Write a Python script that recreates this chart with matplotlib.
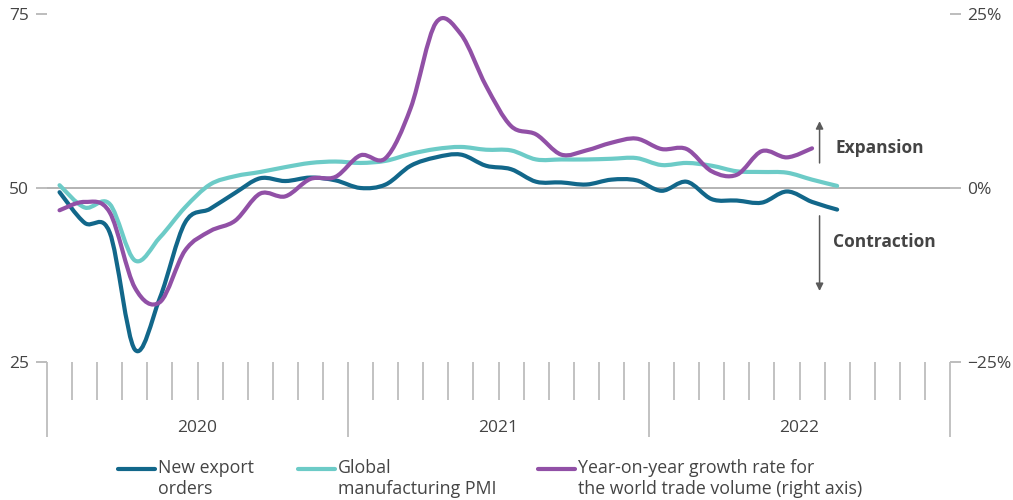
import matplotlib
matplotlib.use("Agg")
import matplotlib.pyplot as plt
from matplotlib.path import Path
from matplotlib.patches import PathPatch
from matplotlib.lines import Line2D

plt.rcParams['font.family'] = ['Open Sans', 'DejaVu Sans']

# Monthly readings, Jan 2020 onwards
years = ['2020', '2021', '2022']
export_orders = [49.4, 45.0, 43.6, 26.8, 34.2, 45.0, 47.0, 49.3, 51.4, 51.0, 51.5, 51.1,
                 50.0, 50.5, 53.2, 54.4, 54.8, 53.2, 52.7, 50.9, 50.8, 50.5, 51.2, 51.1,
                 49.6, 50.9, 48.4, 48.2, 47.9, 49.5, 48.0, 46.9]
global_pmi = [50.4, 47.2, 47.7, 39.6, 42.9, 47.2, 50.5, 51.7, 52.3, 53.0, 53.6, 53.8,
              53.6, 53.9, 54.9, 55.6, 55.9, 55.5, 55.4, 54.1, 54.1, 54.1, 54.2, 54.3,
              53.3, 53.6, 53.2, 52.4, 52.3, 52.2, 51.2, 50.3]
trade_growth = [-3.2, -2.0, -3.5, -14.3, -16.4, -9.0, -6.2, -4.7, -0.8, -1.2, 1.3, 1.6,
                4.7, 4.3, 11.5, 23.7, 22.1, 14.7, 8.9, 7.7, 4.8, 5.4, 6.5, 7.1,
                5.6, 5.6, 2.4, 1.9, 5.3, 4.4, 5.7]

BLUE = '#12678a'
TEAL = '#6ccbc7'
PURPLE = '#9150a6'
GREY = '#bdbdbd'
TEXT = '#444444'


def smooth_path(y):
    # Catmull-Rom curve through the monthly points, as cubic Bezier segments
    x = list(range(len(y)))
    n = len(y)
    verts = [(x[0], y[0])]
    codes = [Path.MOVETO]
    for i in range(n - 1):
        xa, ya = (x[i - 1], y[i - 1]) if i > 0 else (x[i], y[i])
        xb, yb = (x[i + 2], y[i + 2]) if i + 2 < n else (x[i + 1], y[i + 1])
        c1 = (x[i] + (x[i + 1] - xa) / 6, y[i] + (y[i + 1] - ya) / 6)
        c2 = (x[i + 1] - (xb - x[i]) / 6, y[i + 1] - (yb - y[i]) / 6)
        verts += [c1, c2, (x[i + 1], y[i + 1])]
        codes += [Path.CURVE4] * 3
    return Path(verts, codes)


fig = plt.figure(figsize=(10.13, 5.0), dpi=100)
ax = fig.add_axes([47 / 1013, 1 - 362 / 500, 903 / 1013, 348 / 500])
ax2 = ax.twinx()

ax.set_xlim(-0.5, 35.5)
ax.set_ylim(25, 75)
ax2.set_ylim(-25, 25)

for a in (ax, ax2):
    for s in a.spines.values():
        s.set_visible(False)
    a.patch.set_visible(False)

ax.axhline(50, color='#b3b3b3', lw=1.4, zorder=1)

for series, color, axis in [(global_pmi, TEAL, ax), (export_orders, BLUE, ax),
                            (trade_growth, PURPLE, ax2)]:
    patch = PathPatch(smooth_path(series), facecolor='none', edgecolor=color,
                      lw=3.0, capstyle='round', joinstyle='round', zorder=3)
    axis.add_patch(patch)

# y ticks on both sides
ax.set_yticks([25, 50, 75])
ax.tick_params(axis='y', length=8, width=1.4, color=GREY, labelsize=12.5,
               labelcolor=TEXT, pad=5)
ax2.set_yticks([-25, 0, 25])
ax2.set_yticklabels(['\u221225%', '0%', '25%'])
ax2.tick_params(axis='y', length=8, width=1.4, color=GREY, labelsize=12.5,
                labelcolor=TEXT, pad=4)

# month ticks and year separators below the plot
ax.set_xticks([-0.5, 11.5, 23.5, 35.5])
ax.set_xticklabels([])
ax.set_xticks([m - 0.5 for m in range(36) if m % 12 != 0], minor=True)
ax.tick_params(axis='x', which='major', length=54, width=1.3, color=GREY)
ax.tick_params(axis='x', which='minor', length=27.5, width=1.3, color=GREY)
ax2.tick_params(axis='x', which='both', length=0)

for i, yr in enumerate(years):
    ax.text(5.5 + 12 * i, -0.19, yr, transform=ax.get_xaxis_transform(),
            ha='center', va='center', fontsize=12.5, color=TEXT)

# expansion / contraction markers
arrow_style = dict(arrowstyle='-|>', color='#5a5a5a', lw=1.1,
                   mutation_scale=11)
ax.annotate('', xy=(30.3, 60.0), xytext=(30.3, 53.2), arrowprops=arrow_style)
ax.annotate('', xy=(30.3, 34.8), xytext=(30.3, 46.4), arrowprops=arrow_style)
ax.text(30.95, 55.8, 'Expansion', ha='left', va='center', fontsize=12.5,
        fontweight='bold', color=TEXT)
ax.text(30.85, 42.2, 'Contraction', ha='left', va='center', fontsize=12.5,
        fontweight='bold', color=TEXT)

# legend
legend_items = [(BLUE, 'New export\norders', 118),
                (TEAL, 'Global\nmanufacturing PMI', 298),
                (PURPLE, 'Year-on-year growth rate for\nthe world trade volume (right axis)', 538)]
for color, label, x0 in legend_items:
    fig.add_artist(Line2D([x0 / 1013, (x0 + 37) / 1013], [1 - 469 / 500] * 2,
                          color=color, lw=3.0, solid_capstyle='round'))
    fig.text((x0 + 40) / 1013, 1 - 459 / 500, label, ha='left', va='top',
             fontsize=12.8, color=TEXT, linespacing=1.2)

fig.savefig('out.png', dpi=100)
